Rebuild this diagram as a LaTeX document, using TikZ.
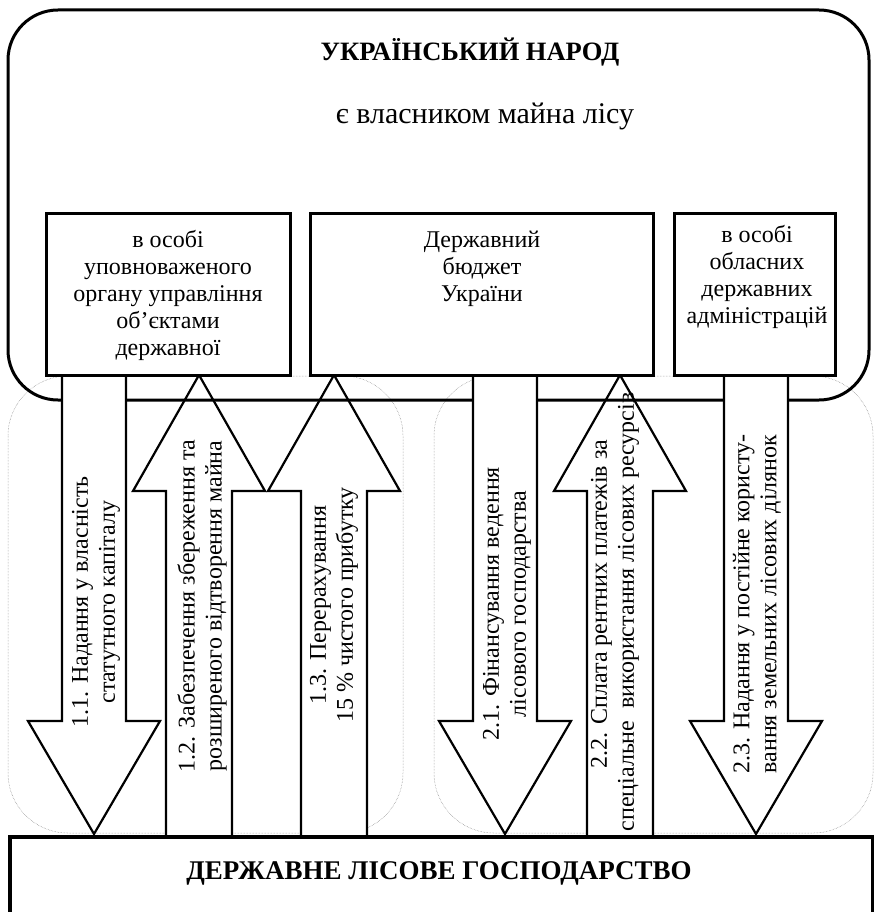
\documentclass[tikz,border=0pt]{standalone}
\usepackage{fontspec}
\setmainfont{Liberation Serif}
\newcommand\UpBlock[1]{%
  \draw[blockarrow] (#1,375) -- ({#1+66},491) -- ({#1+33},491) -- ({#1+33},837)
    -- ({#1-33},837) -- ({#1-33},491) -- ({#1-66},491) -- cycle;}
\newcommand\DownBlock[1]{%
  \draw[blockarrow] ({#1-32},372) -- ({#1-32},721) -- ({#1-66},721) -- (#1,834)
    -- ({#1+66},721) -- ({#1+32},721) -- ({#1+32},372) -- cycle;}
\begin{document}
\begin{tikzpicture}[x=1pt,y=-1pt,
  ibox/.style={draw, line width=3pt, fill=white, inner sep=0pt},
  bigbox/.style={draw, line width=3pt, rounded corners=50pt},
  zone/.style={draw=gray, line width=0.5pt, densely dotted, rounded corners=60pt},
  blockarrow/.style={draw, line width=2.2pt, fill=white, line join=miter},
  txt/.style={font=\fontsize{24}{27}\selectfont, align=center, inner sep=0pt},
  vtxt/.style={txt, rotate=90},
  btitle/.style={font=\fontsize{26.5}{30}\selectfont\bfseries, inner sep=0pt}]

\useasboundingbox (0,0) rectangle (874,912);
\clip (0,0) rectangle (874,912);

% dotted zones
\draw[zone] (8,376) rectangle (403,833);
\draw[zone] (434,376) rectangle (873,833);

% upward block arrows
\UpBlock{199}
\UpBlock{334}
\UpBlock{620}

% outer box
\draw[bigbox] (8,10) rectangle (869,400);

% downward block arrows
\DownBlock{94}
\DownBlock{505}
\DownBlock{756}

% inner boxes
\node[ibox, minimum width=244, minimum height=162] (b1) at (168,294) {};
\node[ibox, minimum width=343, minimum height=162] (b2) at (481.5,294) {};
\node[ibox, minimum width=161, minimum height=162] (b3) at (754.5,294) {};

% bottom box
\node[draw, line width=3.5pt, fill=white, inner sep=0pt, minimum width=863,
      minimum height=140, anchor=north west] (gosp) at (8,835) {};

% texts
\node[btitle] (t1) at (470,52) {УКРАЇНСЬКИЙ НАРОД};
\node[txt, font=\fontsize{30}{34}\selectfont] (t2) at (485,116) {є власником майна лісу};
\node[txt] (t3) at (168,295) {в особі\\уповноваженого\\органу управління\\об’єктами\\державної};
\node[txt] (t4) at (482,269) {Державний\\бюджет\\України};
\node[txt] (t5) at (757,277) {в особі\\обласних\\державних\\адміністрацій};
\node[btitle, font=\fontsize{27}{30}\selectfont\bfseries] (t6) at (439,873) {ДЕРЖАВНЕ ЛІСОВЕ ГОСПОДАРСТВО};

\node[vtxt] (a11) at (96,602) {1.1. Надання у власність\\статутного капіталу};
\node[vtxt] (a12) at (202,606) {1.2. Забезпечення збереження та\\розширеного відтворення майна};
\node[vtxt] (a13) at (334,605) {1.3. Перерахування\\15 \% чистого прибутку};
\node[vtxt] (a21) at (507,604) {2.1. Фінансування ведення\\лісового господарства};
\node[vtxt] (a22) at (615,612) {\kern16pt 2.2. Сплата рентних платежів за\\спеціальне\ \ використання лісових ресурсів};
\node[vtxt] (a23) at (757,604) {2.3. Надання у постійне користу-\\вання земельних лісових ділянок};
\end{tikzpicture}
\end{document}
